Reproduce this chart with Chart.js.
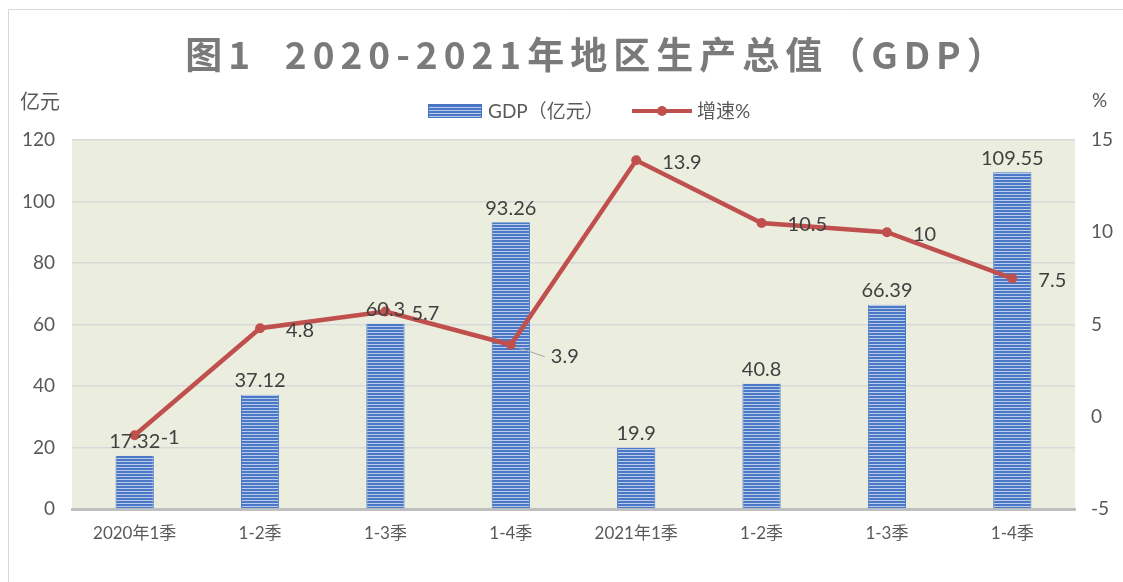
<!DOCTYPE html>
<html>
<head>
<meta charset="utf-8">
<script src="https://cdn.jsdelivr.net/npm/chart.js@4/dist/chart.umd.min.js"></script>
<style>
  html, body { margin: 0; padding: 0; background: #ffffff; }
  #wrap { position: relative; width: 1123px; height: 582px; }
</style>
</head>
<body>
<div id="wrap"><canvas id="c" width="1123" height="582"></canvas></div>
<script>
// ---- data ----
const categories = ['2020年1季', '1-2季', '1-3季', '1-4季', '2021年1季', '1-2季', '1-3季', '1-4季'];
const gdpValues = [17.32, 37.12, 60.3, 93.26, 19.9, 40.8, 66.39, 109.55];
const growthValues = [-1, 4.8, 5.7, 3.9, 13.9, 10.5, 10, 7.5];
const leftTickValues = [0, 20, 40, 60, 80, 100, 120];
const rightTickValues = [-5, 0, 5, 10, 15];
const titleText = '图1  2020-2021年地区生产总值（GDP）';
const seriesNames = ['GDP（亿元）', '增速%'];
const leftAxisTitle = '亿元';
const rightAxisTitle = '%';

// ---- styles ----
const FONT_LATIN = 'Lato, "Noto Sans CJK SC", sans-serif';
const TEXT_GRAY = '#595959';
const LABEL_DARK = '#404040';
const LINE_RED = '#C0504D';
const BAR_BLUE = '#4472C4';
// per-point label nudge for growth series (dx from point, dy, leader line flag)
const growthLabelNudge = [null, null, null, { dx: 40, dy: 12, leader: true }, null, null, null, null];

function makeStripePattern() {
  const pc = document.createElement('canvas');
  pc.width = 4; pc.height = 3;
  const p = pc.getContext('2d');
  p.fillStyle = '#4a78c6';
  p.fillRect(0, 0, 4, 3);
  p.fillStyle = '#b9cbe9';
  p.fillRect(0, 2, 4, 1);
  return document.getElementById('c').getContext('2d').createPattern(pc, 'repeat');
}
const stripe = makeStripePattern();

const decorPlugin = {
  id: 'decor',
  beforeDraw(chart) {
    const { ctx, chartArea: a } = chart;
    ctx.save();
    // chart frame (top / left)
    ctx.strokeStyle = '#d9d9d9';
    ctx.lineWidth = 1;
    ctx.beginPath();
    ctx.moveTo(8.5, chart.height);
    ctx.lineTo(8.5, 9.5);
    ctx.lineTo(chart.width, 9.5);
    ctx.stroke();
    // plot background
    ctx.fillStyle = '#EBEEDF';
    ctx.fillRect(a.left, a.top, a.right - a.left, a.bottom - a.top);
    ctx.restore();
  },
  afterDraw(chart) {
    const { ctx, chartArea: a } = chart;
    ctx.save();
    // title
    ctx.fillStyle = '#7a7a7a';
    ctx.font = 'bold 37px "Noto Sans CJK SC", sans-serif';
    ctx.textBaseline = 'middle';
    ctx.textAlign = 'center';
    const ls = 6;
    ctx.letterSpacing = ls + 'px';
    ctx.fillText(titleText, (a.left + a.right) / 2 + 21 + ls / 2, 55);
    ctx.letterSpacing = '0px';

    // axis titles
    ctx.font = '20px "Noto Sans CJK SC", sans-serif';
    ctx.fillStyle = TEXT_GRAY;
    ctx.textAlign = 'left';
    ctx.fillText(leftAxisTitle, 20, 101);
    ctx.font = '19px ' + FONT_LATIN;
    ctx.fillText(rightAxisTitle, 1092, 101);

    // legend
    const ly = 111;
    ctx.fillStyle = stripe;
    ctx.fillRect(428, 104, 54, 14);
    ctx.strokeStyle = BAR_BLUE;
    ctx.lineWidth = 1;
    ctx.strokeRect(428.5, 104.5, 53, 13);
    ctx.font = '19px ' + FONT_LATIN;
    ctx.fillStyle = TEXT_GRAY;
    ctx.fillText(seriesNames[0], 488, ly + 1);
    ctx.strokeStyle = LINE_RED;
    ctx.lineWidth = 4;
    ctx.beginPath();
    ctx.moveTo(632, ly);
    ctx.lineTo(692, ly);
    ctx.stroke();
    ctx.fillStyle = LINE_RED;
    ctx.beginPath();
    ctx.arc(662, ly, 5, 0, Math.PI * 2);
    ctx.fill();
    ctx.fillStyle = TEXT_GRAY;
    ctx.fillText(seriesNames[1], 697, ly + 1);

    // data labels
    ctx.font = '20px ' + FONT_LATIN;
    ctx.fillStyle = LABEL_DARK;
    const barMeta = chart.getDatasetMeta(0);
    ctx.textAlign = 'center';
    barMeta.data.forEach((el, i) => {
      ctx.fillText(String(gdpValues[i]), el.x, el.y - 14);
    });
    const lineMeta = chart.getDatasetMeta(1);
    ctx.textAlign = 'left';
    lineMeta.data.forEach((el, i) => {
      const nudge = growthLabelNudge[i];
      if (nudge) {
        const tx = el.x + nudge.dx, ty = el.y + nudge.dy;
        ctx.strokeStyle = '#a6a6a6';
        ctx.lineWidth = 1;
        ctx.beginPath();
        ctx.moveTo(el.x + 8, el.y + 3);
        ctx.lineTo(tx - 6, ty);
        ctx.stroke();
        ctx.fillText(String(growthValues[i]), tx, ty);
      } else {
        ctx.fillText(String(growthValues[i]), el.x + 26, el.y + 2);
      }
    });
    ctx.restore();
  }
};

new Chart(document.getElementById('c'), {
  type: 'bar',
  data: {
    labels: categories,
    datasets: [
      {
        type: 'bar',
        label: seriesNames[0],
        data: gdpValues,
        yAxisID: 'y',
        backgroundColor: stripe,
        borderColor: BAR_BLUE,
        borderWidth: { left: 1, right: 1, top: 0, bottom: 0 },
        borderSkipped: false,
        categoryPercentage: 1,
        barPercentage: 0.305,
        order: 2
      },
      {
        type: 'line',
        label: seriesNames[1],
        data: growthValues,
        yAxisID: 'y1',
        borderColor: LINE_RED,
        backgroundColor: LINE_RED,
        borderWidth: 4.5,
        pointRadius: 5,
        pointHoverRadius: 5,
        pointBorderWidth: 0,
        tension: 0,
        order: 1
      }
    ]
  },
  options: {
    responsive: false,
    animation: false,
    events: [],
    layout: { padding: { top: 140, left: 0, right: 0, bottom: 0 } },
    plugins: {
      legend: { display: false },
      title: { display: false },
      tooltip: { enabled: false }
    },
    scales: {
      x: {
        grid: { display: false, drawTicks: false },
        border: { display: true, color: '#bfbfbf', width: 3 },
        ticks: {
          color: TEXT_GRAY,
          font: { family: FONT_LATIN, size: 17 },
          padding: 14,
          maxRotation: 0,
          autoSkip: false
        },
        afterFit(s) { s.height = 73; }
      },
      y: {
        position: 'left',
        min: 0,
        max: 120,
        afterBuildTicks(s) { s.ticks = leftTickValues.map(v => ({ value: v })); },
        grid: { color: '#d9d9d9', lineWidth: 1.5, drawTicks: false },
        border: { display: false },
        ticks: {
          color: TEXT_GRAY,
          font: { family: FONT_LATIN, size: 19 },
          padding: 17
        },
        afterFit(s) { s.width = 72; }
      },
      y1: {
        position: 'right',
        min: -5,
        max: 15,
        afterBuildTicks(s) { s.ticks = rightTickValues.map(v => ({ value: v })); },
        grid: { drawOnChartArea: false, drawTicks: false },
        border: { display: false },
        ticks: {
          color: TEXT_GRAY,
          font: { family: FONT_LATIN, size: 19 },
          padding: 16
        },
        afterFit(s) { s.width = 48; }
      }
    }
  },
  plugins: [decorPlugin]
});
</script>
</body>
</html>
